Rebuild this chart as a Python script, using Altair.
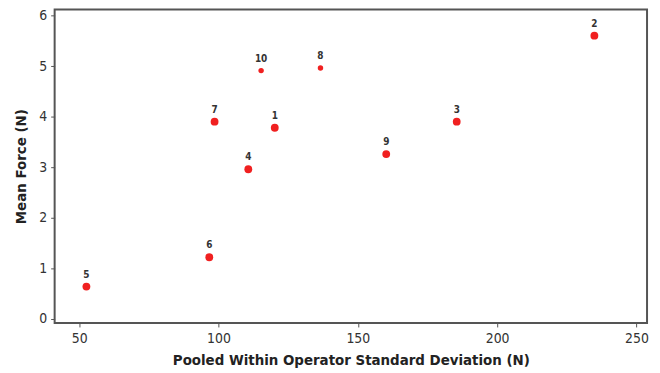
import altair as alt
import pandas as pd

labels = ["1", "2", "3", "4", "5", "6", "7", "8", "9", "10"]
pooled_sd = [120.2, 234.9, 185.5, 110.7, 52.6, 96.7, 98.6, 136.6, 160.2, 115.3]
mean_force = [3.78, 5.60, 3.90, 2.96, 0.64, 1.22, 3.90, 4.96, 3.26, 4.91]

x_ticks = [50, 100, 150, 200, 250]
y_ticks = [0, 1, 2, 3, 4, 5, 6]

df = pd.DataFrame({"label": labels, "sd": pooled_sd, "force": mean_force})

FONT = "'DejaVu Sans Condensed', 'DejaVu Sans', sans-serif"

x = alt.X("sd:Q", scale=alt.Scale(domain=[41.2, 253.8], nice=False, zero=False),
          axis=alt.Axis(title="Pooled Within Operator Standard Deviation (N)", values=x_ticks,
                        grid=False, domain=False, tickSize=4, tickColor="#555",
                        labelPadding=5, titlePadding=7))
y = alt.Y("force:Q", scale=alt.Scale(domain=[-0.08, 6.12], nice=False, zero=False),
          axis=alt.Axis(title="Mean Force (N)", values=y_ticks, grid=False, domain=False,
                        tickSize=4, tickColor="#555", labelPadding=4, titlePadding=10))

base = alt.Chart(df)

points = base.mark_circle(color="#f02020", opacity=1).encode(
    x=x, y=y,
    size=alt.condition(alt.FieldOneOfPredicate(field="label", oneOf=["8", "10"]),
                       alt.value(30), alt.value(62)),
)

text = base.mark_text(dy=-12, fontSize=10, fontWeight="bold", color="#333", font=FONT).encode(
    x=x, y=y, text="label:N"
)

chart = (points + text).properties(
    width=597, height=316,
    background="white",
    autosize=alt.AutoSizeParams(type="none"),
    padding={"left": 47, "top": 0, "right": 5, "bottom": 48},
).configure_view(
    stroke="#555", strokeWidth=2
).configure_axis(
    labelFont=FONT, titleFont=FONT, labelFontSize=14, titleFontSize=15,
    labelColor="#333", titleColor="#222", titleFontWeight="bold",
)

chart.save("out.html", embed_options={"renderer": "svg", "actions": False})
